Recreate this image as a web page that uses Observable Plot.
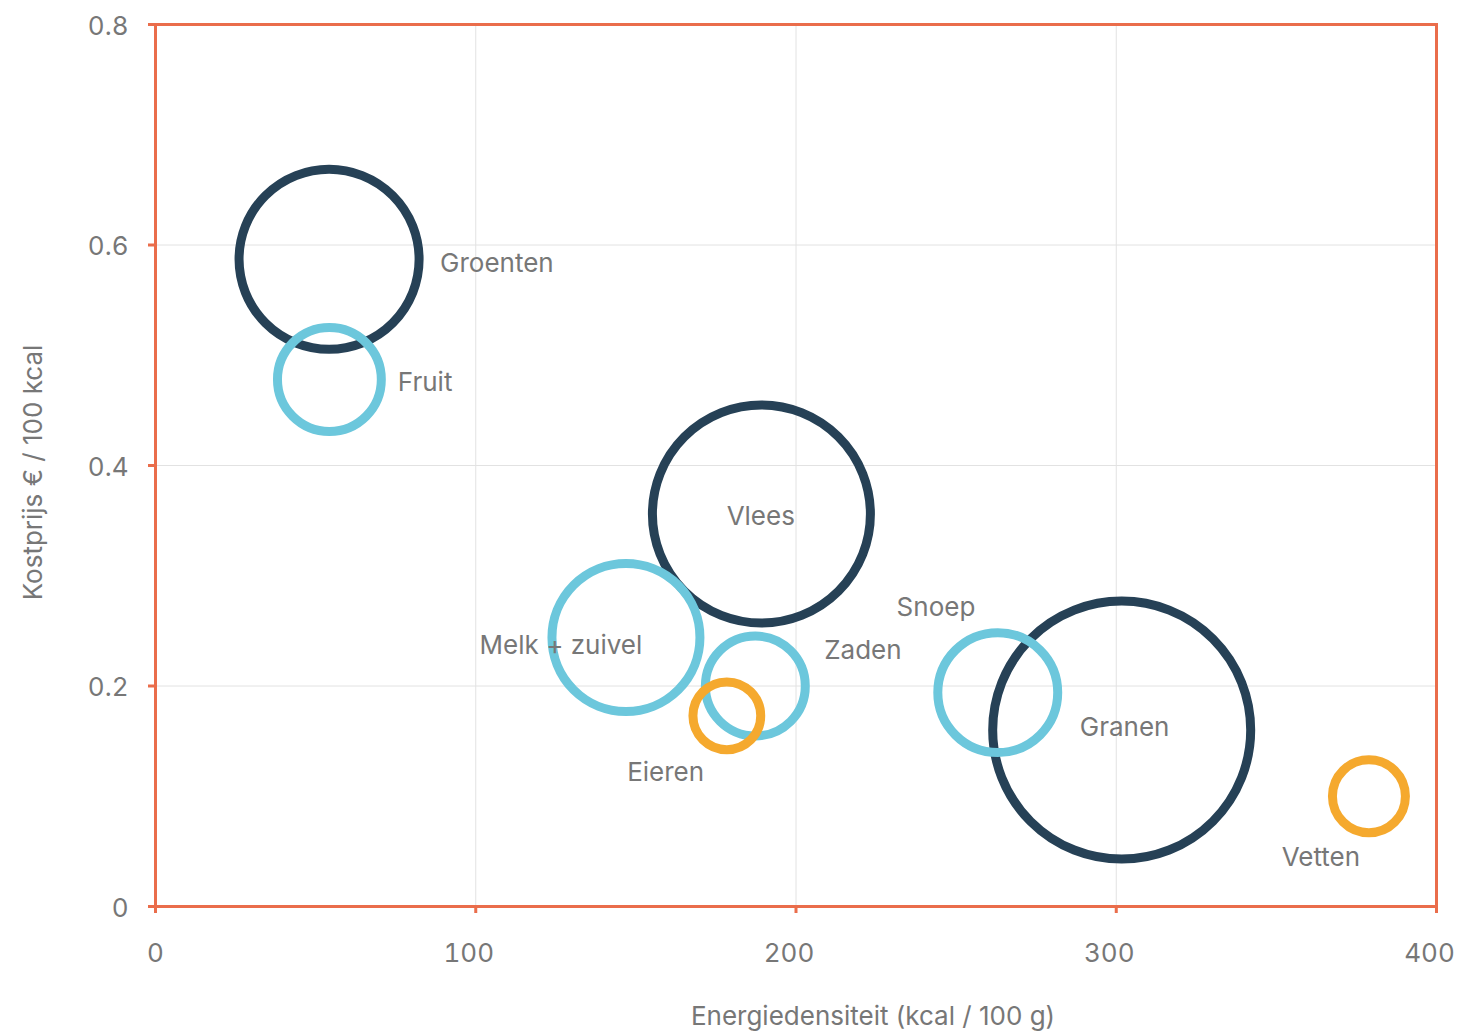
<!DOCTYPE html>
<html>
<head>
<meta charset="utf-8">
<script src="https://cdn.jsdelivr.net/npm/d3@7"></script>
<script src="https://cdn.jsdelivr.net/npm/@observablehq/plot@0.6"></script>
<style>
  html, body { margin: 0; padding: 0; background: #ffffff; }
  #chart svg { display: block; }
</style>
</head>
<body>
<div id="chart"></div>
<script>
// ---- data ----
const categories = ["Fruit", "Melk + zuivel", "Zaden", "Snoep", "Groenten", "Vlees", "Granen", "Eieren", "Vetten"];
const energy     = [54.3, 146.9, 187.3, 263.0, 54.2, 189.2, 301.7, 178.4, 378.9];   // kcal / 100 g
const cost       = [0.478, 0.244, 0.200, 0.194, 0.587, 0.356, 0.160, 0.173, 0.100]; // € / 100 kcal
const volume     = [16.2, 32.9, 15.0, 21.6, 48.7, 71.4, 100, 6.9, 8.0];             // relative bubble size
const group      = ["groep 2", "groep 2", "groep 2", "groep 2", "groep 1", "groep 1", "groep 1", "groep 3", "groep 3"];
const labelX     = [84.2, 126.6, 220.9, 243.7, 106.6, 189.0, 302.6, 159.3, 363.9];
const labelY     = [0.475, 0.237, 0.232, 0.271, 0.583, 0.354, 0.162, 0.1216, 0.0445];
const groups     = ["groep 1", "groep 2", "groep 3"];
const xTicks     = [0, 100, 200, 300, 400];
const yTicks     = [0, 0.2, 0.4, 0.6, 0.8];
const xLabel     = "Energiedensiteit (kcal / 100 g)";
const yLabel     = "Kostprijs € / 100 kcal";

const data = categories.map((c, i) => ({
  categorie: c, energie: energy[i], kostprijs: cost[i], omvang: volume[i],
  groep: group[i], lx: labelX[i], ly: labelY[i]
}));

const accent = "#ea6d4b";
const textGrey = "#777777";

const chart = Plot.plot({
  width: 1458,
  height: 1031,
  marginLeft: 155,
  marginRight: 22,
  marginTop: 24,
  marginBottom: 125,
  style: { fontFamily: "Inter, 'Noto Sans', sans-serif", fontSize: "26px", color: textGrey, background: "#fff" },
  x: { domain: [0, 400], label: null },
  y: { domain: [0, 0.8], label: null },
  r: { type: "sqrt", domain: [0, 100], range: [0, 129] },
  color: { domain: groups, range: ["#264156", "#6cc7dc", "#f5a92e"] },
  marks: [
    Plot.gridX(xTicks, { stroke: "#e2e2e2", strokeOpacity: 1, strokeWidth: 1 }),
    Plot.gridY(yTicks, { stroke: "#e2e2e2", strokeOpacity: 1, strokeWidth: 1 }),
    Plot.dot(data, { x: "energie", y: "kostprijs", r: "omvang", stroke: "groep", strokeWidth: 9, fill: "none" }),
    Plot.text(data, { x: "lx", y: "ly", text: "categorie", fill: textGrey, fontSize: 26, textAnchor: "middle", lineAnchor: "middle" }),
    Plot.frame({ stroke: accent, strokeWidth: 3 }),
    // x tick marks (no text)
    Plot.axisX({ ticks: xTicks, tickSize: 7, stroke: accent, strokeWidth: 3, label: null, tickFormat: () => "" }),
    // x tick labels
    Plot.axisX({ ticks: xTicks.slice(0, 1), tickSize: 0, tickPadding: 37, fill: textGrey, label: null, tickFormat: d => String(d) }),
    Plot.axisX({ ticks: xTicks.slice(1), tickSize: 0, tickPadding: 37, dx: -7, fill: textGrey, label: null, tickFormat: d => String(d) }),
    // y axis
    Plot.axisY({ ticks: yTicks, tickSize: 7, stroke: accent, strokeWidth: 3, label: null, tickFormat: () => "" }),
    Plot.axisY({ ticks: yTicks, tickSize: 0, tickPadding: 27, dy: 2, fill: textGrey, label: null, tickFormat: d => String(d) }),
    Plot.text([xLabel], { frameAnchor: "bottom", dy: 110, dx: 77, text: d => d, fill: textGrey, fontSize: 26, textAnchor: "middle", lineAnchor: "middle" }),
    Plot.text([yLabel], { frameAnchor: "left", dx: -122, dy: 7, rotate: -90, text: d => d, fill: textGrey, fontSize: 26, textAnchor: "middle", lineAnchor: "middle" })
  ]
});

document.getElementById("chart").appendChild(chart);
</script>
</body>
</html>
